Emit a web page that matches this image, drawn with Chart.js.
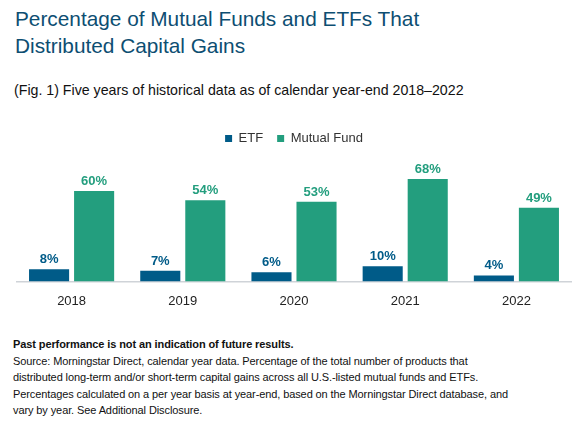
<!DOCTYPE html>
<html>
<head>
<meta charset="utf-8">
<script src="https://cdn.jsdelivr.net/npm/chart.js@4"></script>
<style>
  html, body { margin: 0; padding: 0; background: #fff; }
  body { width: 577px; height: 429px; position: relative; overflow: hidden; font-family: 'Liberation Sans', Arial, sans-serif; }
  h1 { position: absolute; left: 15px; top: 5px; margin: 0; font-size: 20.8px; font-weight: normal; line-height: 27px; color: #0d4e72; }
  .sub { position: absolute; left: 14px; top: 82px; font-size: 14.2px; color: #111; }
  .chart-box { position: absolute; left: 16px; top: 118px; width: 556px; height: 195px; }
  .foot { position: absolute; left: 13px; top: 336px; width: 560px; font-size: 11px; letter-spacing: -0.1px; line-height: 16.6px; color: #111; }
  .foot b { display: block; }
</style>
</head>
<body>
<h1>Percentage of Mutual Funds and ETFs That<br>Distributed Capital Gains</h1>
<div class="sub">(Fig. 1) Five years of historical data as of calendar year-end 2018–2022</div>
<div class="chart-box"><canvas id="capGainsChart"></canvas></div>
<div class="foot">
  <b>Past performance is not an indication of future results.</b>
  Source: Morningstar Direct, calendar year data. Percentage of the total number of products that<br>distributed long-term and/or short-term capital gains across all U.S.-listed mutual funds and ETFs.<br>Percentages calculated on a per year basis at year-end, based on the Morningstar Direct database, and<br>vary by year. See Additional Disclosure.
</div>
<script>
// Data
const years = ['2018', '2019', '2020', '2021', '2022'];
const etfValues = [8, 7, 6, 10, 4];
const mutualFundValues = [60, 54, 53, 68, 49];

const etfColor = '#005b88';
const mfColor = '#239e7e';

// Draws the % labels above each bar
const valueLabels = {
    id: 'valueLabels',
    afterDatasetsDraw(chart) {
        const ctx = chart.ctx;
        ctx.save();
        ctx.font = "bold 13px 'Liberation Sans', Arial, sans-serif";
        ctx.textAlign = 'center';
        ctx.textBaseline = 'bottom';
        chart.data.datasets.forEach((ds, i) => {
            const meta = chart.getDatasetMeta(i);
            ctx.fillStyle = ds.backgroundColor;
            meta.data.forEach((bar, j) => {
                ctx.fillText(ds.data[j] + '%', bar.x, bar.y - 3);
            });
        });
        ctx.restore();
    }
};

const ctx = document.getElementById('capGainsChart').getContext('2d');
new Chart(ctx, {
    type: 'bar',
    data: {
        labels: years,
        datasets: [
            { label: 'ETF', data: etfValues, backgroundColor: etfColor },
            { label: 'Mutual Fund', data: mutualFundValues, backgroundColor: mfColor }
        ]
    },
    options: {
        responsive: true,
        maintainAspectRatio: false,
        animation: false,
        barPercentage: 0.89,
        categoryPercentage: 0.81,
        plugins: {
            legend: {
                position: 'top',
                labels: {
                    boxWidth: 7,
                    boxHeight: 7,
                    padding: 14,
                    color: '#333',
                    font: { family: "'Liberation Sans', Arial, sans-serif", size: 13 }
                }
            },
            tooltip: { enabled: false }
        },
        scales: {
            x: {
                grid: { display: false },
                border: { color: '#cfd3d8', width: 1.5 },
                ticks: {
                    color: '#222',
                    padding: 4,
                    font: { family: "'Liberation Sans', Arial, sans-serif", size: 13 }
                }
            },
            y: {
                display: false,
                min: 0,
                max: 84
            }
        }
    },
    plugins: [valueLabels]
});
</script>
</body>
</html>
